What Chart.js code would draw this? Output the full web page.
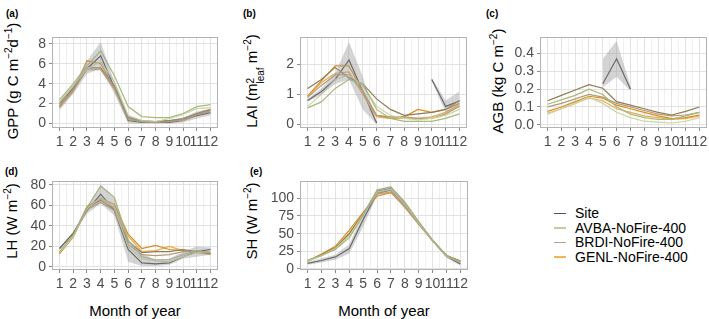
<!DOCTYPE html>
<html>
<head>
<meta charset="utf-8">
<script src="https://cdn.jsdelivr.net/npm/chart.js@4/dist/chart.umd.min.js"></script>
<style>
  body { margin: 0; width: 709px; height: 319px; position: relative; background: #fff; overflow: hidden;
         font-family: "Liberation Sans", Arial, sans-serif; color: #000; }
  canvas { position: absolute; }
  .tag { position: absolute; font-size: 10px; font-weight: bold; }
  .ytitle { position: absolute; font-size: 15px; white-space: nowrap; transform: translate(-50%, -50%) rotate(-90deg); }
  .ytitle sup { font-size: 10px; vertical-align: 6px; line-height: 0; }
  .ss { display: inline-block; vertical-align: -7px; font-size: 10px; line-height: 10px; }
  .ss span { display: block; }
  .xtitle { position: absolute; font-size: 15px; white-space: nowrap; transform: translate(-50%, -50%); }
  .legend { position: absolute; left: 554px; top: 206px; font-size: 14px; }
  .legend div { height: 14.5px; display: flex; align-items: center; }
  .legend i { display: inline-block; width: 12px; height: 1.5px; margin-right: 9px; }
</style>
</head>
<body>
<div class="tag" style="left:6px;top:8px">(a)</div>
<div class="tag" style="left:243px;top:8px">(b)</div>
<div class="tag" style="left:486px;top:8px">(c)</div>
<div class="tag" style="left:5px;top:166px">(d)</div>
<div class="tag" style="left:250px;top:166px">(e)</div>

<div class="ytitle" style="left:12px;top:81px">GPP (g C m<sup>−2</sup>d<sup>−1</sup>)</div>
<div class="ytitle" style="left:254px;top:81px">LAI (m<span class="ss"><span>2</span><span>leaf</span></span> m<sup>−2</sup>)</div>
<div class="ytitle" style="left:497px;top:81px">AGB (kg C m<sup>−2</sup>)</div>
<div class="ytitle" style="left:11px;top:221px">LH (W m<sup>−2</sup>)</div>
<div class="ytitle" style="left:251px;top:221px">SH (W m<sup>−2</sup>)</div>

<div class="xtitle" style="left:135px;top:310px">Month of year</div>
<div class="xtitle" style="left:384px;top:310px">Month of year</div>

<div class="legend">
  <div><i style="background:#555"></i>Site</div>
  <div><i style="background:#c2cf9c"></i>AVBA-NoFire-400</div>
  <div><i style="background:#b5a48a"></i>BRDI-NoFire-400</div>
  <div><i style="background:#f1b65b"></i>GENL-NoFire-400</div>
</div>

<canvas id="gpp"></canvas>
<canvas id="lai"></canvas>
<canvas id="agb"></canvas>
<canvas id="lh"></canvas>
<canvas id="sh"></canvas>

<script>
const months = [1, 2, 3, 4, 5, 6, 7, 8, 9, 10, 11, 12];
const xGrid = [0.5, 1, 1.5, 2, 2.5, 3, 3.5, 4, 4.5, 5, 5.5, 6, 6.5, 7, 7.5, 8, 8.5, 9, 9.5, 10, 10.5, 11, 11.5, 12, 12.5];

// GPP (g C m-2 d-1)
const gppSite   = [1.7, 3.5, 5.5, 6.8, 3.6, 0.3, 0.1, 0.1, 0.1, 0.3, 0.8, 1.1];
const gppSiteLo = [1.3, 3.0, 5.0, 5.5, 3.0, 0.0, 0.0, 0.0, 0.0, 0.1, 0.5, 0.8];
const gppSiteHi = [2.2, 3.8, 6.3, 8.2, 4.2, 0.8, 0.3, 0.2, 0.3, 0.6, 1.2, 1.5];
const gppAvba1  = [2.4, 4.0, 5.8, 7.3, 4.8, 1.7, 0.7, 0.6, 0.6, 1.0, 1.7, 1.9];
const gppAvba2  = [2.2, 3.8, 5.5, 6.2, 4.2, 0.8, 0.3, 0.2, 0.5, 0.9, 1.5, 1.6];
const gppBrdi1  = [2.0, 3.6, 5.6, 5.6, 3.8, 0.6, 0.3, 0.2, 0.3, 0.5, 1.0, 1.4];
const gppBrdi2  = [1.8, 3.4, 5.4, 5.4, 3.5, 0.4, 0.2, 0.1, 0.2, 0.4, 0.9, 1.2];
const gppGenl1  = [1.8, 3.3, 6.3, 6.0, 3.6, 0.6, 0.2, 0.2, 0.3, 0.4, 1.0, 1.4];
const gppGenl2  = [1.6, 3.2, 5.6, 5.5, 3.4, 0.5, 0.2, 0.2, 0.3, 0.3, 0.9, 1.3];
const gppTicks  = [0, 1, 2, 3, 4, 5, 6, 7, 8];
const gppLabels = [0, 2, 4, 6, 8];

// LAI (m2 leaf m-2)
const laiSite   = [0.8, 1.1, 1.5, 2.15, 1.1, 0.05, null, null, null, 1.5, 0.6, 0.78];
const laiSiteLo = [0.75, 1.0, 1.35, 1.5, 0.5, 0.0, null, null, null, 1.45, 0.4, 0.65];
const laiSiteHi = [0.85, 1.2, 1.7, 2.75, 1.6, 0.1, null, null, null, 1.55, 0.8, 1.1];
const laiAvba1  = [0.55, 0.75, 1.2, 1.5, 1.35, 0.5, 0.2, 0.1, 0.1, 0.1, 0.2, 0.35];
const laiAvba2  = [0.6, 1.0, 1.5, 1.65, 1.3, 0.6, 0.3, 0.2, 0.15, 0.2, 0.3, 0.5];
const laiBrdi1  = [1.2, 1.5, 1.9, 1.55, 1.35, 0.85, 0.5, 0.3, 0.35, 0.4, 0.5, 0.8];
const laiBrdi2  = [0.9, 1.3, 1.65, 1.65, 1.1, 0.3, 0.2, 0.25, 0.2, 0.2, 0.35, 0.6];
const laiGenl1  = [0.95, 1.45, 1.95, 1.95, 1.1, 0.3, 0.25, 0.25, 0.5, 0.4, 0.5, 0.7];
const laiGenl2  = [0.9, 1.4, 1.7, 1.75, 1.0, 0.25, 0.2, 0.2, 0.2, 0.25, 0.4, 0.65];
const laiTicks  = [0, 0.5, 1, 1.5, 2, 2.5];
const laiLabels = [0, 1, 2];

// AGB (kg C m-2)
const agbSite   = [null, null, null, null, 0.23, 0.37, 0.2, null, null, null, null, null];
const agbSiteLo = [null, null, null, null, 0.21, 0.27, 0.19, null, null, null, null, null];
const agbSiteHi = [null, null, null, null, 0.37, 0.47, 0.22, null, null, null, null, null];
const agbAvba1  = [0.115, 0.14, 0.165, 0.2, 0.17, 0.1, 0.06, 0.04, 0.03, 0.03, 0.05, 0.07];
const agbAvba2  = [0.06, 0.09, 0.12, 0.155, 0.12, 0.07, 0.04, 0.02, 0.015, 0.01, 0.02, 0.04];
const agbBrdi1  = [0.135, 0.165, 0.195, 0.225, 0.205, 0.13, 0.11, 0.09, 0.07, 0.055, 0.075, 0.1];
const agbBrdi2  = [0.1, 0.12, 0.145, 0.17, 0.155, 0.12, 0.1, 0.08, 0.06, 0.05, 0.055, 0.07];
const agbGenl1  = [0.075, 0.1, 0.13, 0.16, 0.15, 0.11, 0.09, 0.07, 0.05, 0.035, 0.04, 0.055];
const agbGenl2  = [0.065, 0.09, 0.12, 0.15, 0.135, 0.09, 0.07, 0.05, 0.04, 0.03, 0.035, 0.05];
const agbTicks  = [0, 0.05, 0.1, 0.15, 0.2, 0.25, 0.3, 0.35, 0.4, 0.45];
const agbLabels = [0, 0.1, 0.2, 0.3, 0.4];

// LH (W m-2)
const lhSite   = [18, 33, 55, 71, 55, 17, 4, 3, 4, 10, 15, 17];
const lhSiteLo = [17, 32, 52, 62, 50, 5, 1, 1, 2, 8, 10, 12];
const lhSiteHi = [19, 34, 58, 80, 67, 27, 13, 7, 8, 15, 20, 19];
const lhAvba1  = [15, 31, 58, 79, 68, 26, 10, 7, 7, 12, 16, 14];
const lhAvba2  = [14, 30, 57, 68, 58, 20, 8, 6, 5, 10, 14, 15];
const lhBrdi1  = [14, 31, 58, 65, 56, 25, 14, 15, 15, 17, 15, 13];
const lhBrdi2  = [14, 30, 56, 63, 55, 22, 12, 11, 12, 15, 15, 14];
const lhGenl1  = [13, 30, 59, 67, 61, 32, 18, 21, 17, 16, 15, 13];
const lhGenl2  = [13, 29, 57, 66, 58, 30, 15, 16, 20, 16, 14, 12];
const lhTicks  = [0, 10, 20, 30, 40, 50, 60, 70, 80];
const lhLabels = [0, 20, 40, 60, 80];

// SH (W m-2)
const shSite   = [8, 12, 17, 29, 70, 107, 112, 90, 65, 40, 18, 7];
const shSiteLo = [6, 9, 13, 22, 60, 104, 108, 85, 62, 38, 16, 5];
const shSiteHi = [10, 15, 20, 35, 78, 112, 118, 95, 68, 42, 20, 9];
const shAvba1  = [12, 19, 28, 44, 76, 112, 116, 95, 67, 41, 19, 10];
const shAvba2  = [11, 19, 29, 47, 77, 109, 113, 92, 65, 40, 18, 10];
const shBrdi1  = [12, 20, 30, 50, 78, 110, 114, 93, 66, 40, 19, 11];
const shBrdi2  = [11, 19, 28, 48, 77, 108, 112, 91, 65, 40, 18, 10];
const shGenl1  = [11, 21, 32, 55, 80, 103, 108, 88, 63, 40, 19, 11];
const shGenl2  = [11, 20, 29, 51, 78, 106, 109, 90, 64, 40, 19, 11];
const shTicks  = [0, 12.5, 25, 37.5, 50, 62.5, 75, 87.5, 100, 112.5];
const shLabels = [0, 25, 50, 75, 100];

const colors = {
  site: "#3d3d3d",
  avba1: "#a9b97a", avba2: "#c8d5a5",
  brdi1: "#8f7b55", brdi2: "#b39b78",
  genl1: "#dc8c1e", genl2: "#eaac55",
  ribbon: "rgba(160, 160, 160, 0.45)",
};
const tickFont = { family: "'Liberation Sans', Arial, sans-serif", size: 14 };
const PAD_L = 40, PAD_T = 6, PAD_R = 6, PAD_B = 28;

const panelBox = {
  id: "panelBox",
  afterDraw(chart) {
    const { ctx, chartArea: a } = chart;
    ctx.save();
    ctx.strokeStyle = "#b3b3b3";
    ctx.lineWidth = 1;
    ctx.strokeRect(Math.round(a.left) + 0.5, Math.round(a.top) + 0.5,
                   Math.round(a.right - a.left) - 1, Math.round(a.bottom - a.top) - 1);
    ctx.restore();
  },
};

function toXY(values) {
  return values.map((v, i) => ({ x: months[i], y: v }));
}

function line(values, color) {
  return { data: toXY(values), borderColor: color, borderWidth: 1.2, pointRadius: 0, fill: false, tension: 0 };
}

function isMajor(value, labels) {
  return labels.some((l) => Math.abs(l - value) < 1e-9);
}

function renderPanel(id, box, yMin, yMax, yTicks, yLabels, fmt, s) {
  const canvas = document.getElementById(id);
  const w = box.r - box.l + PAD_L + PAD_R;
  const h = box.b - box.t + PAD_T + PAD_B;
  canvas.width = w;
  canvas.height = h;
  canvas.style.left = (box.l - PAD_L) + "px";
  canvas.style.top = (box.t - PAD_T) + "px";

  const datasets = [
    { data: toXY(s.lo), borderWidth: 0, pointRadius: 0, fill: false },
    { data: toXY(s.hi), borderWidth: 0, pointRadius: 0, fill: "-1", backgroundColor: colors.ribbon },
    line(s.avba1, colors.avba1),
    line(s.avba2, colors.avba2),
    line(s.brdi1, colors.brdi1),
    line(s.brdi2, colors.brdi2),
    line(s.genl1, colors.genl1),
    line(s.genl2, colors.genl2),
    line(s.site, colors.site),
  ];

  new Chart(canvas, {
    type: "line",
    data: { datasets },
    plugins: [panelBox],
    options: {
      responsive: false,
      animation: false,
      events: [],
      layout: { padding: { top: PAD_T, right: PAD_R, left: 0, bottom: 0 } },
      plugins: { legend: { display: false }, tooltip: { enabled: false } },
      scales: {
        x: {
          type: "linear",
          min: 0.45,
          max: 12.55,
          afterBuildTicks(scale) { scale.ticks = xGrid.map((v) => ({ value: v })); },
          afterFit(scale) { scale.height = PAD_B; },
          border: { display: false },
          grid: {
            color: (c) => Number.isInteger(c.tick.value) ? "#e2e2e2" : "#f0f0f0",
            tickColor: (c) => Number.isInteger(c.tick.value) ? "#8a8a8a" : "rgba(0,0,0,0)",
            tickLength: 3,
          },
          ticks: {
            autoSkip: false,
            maxRotation: 0,
            minRotation: 0,
            padding: 3,
            color: "#4d4d4d",
            font: tickFont,
            callback: (v) => Number.isInteger(v) ? String(v) : "",
          },
        },
        y: {
          type: "linear",
          min: yMin,
          max: yMax,
          afterBuildTicks(scale) { scale.ticks = yTicks.map((v) => ({ value: v })); },
          afterFit(scale) { scale.width = PAD_L; },
          border: { display: false },
          grid: {
            color: (c) => isMajor(c.tick.value, yLabels) ? "#e2e2e2" : "#f0f0f0",
            tickColor: (c) => isMajor(c.tick.value, yLabels) ? "#8a8a8a" : "rgba(0,0,0,0)",
            tickLength: 3,
          },
          ticks: {
            padding: 3,
            color: "#4d4d4d",
            font: tickFont,
            callback: (v) => isMajor(v, yLabels) ? fmt(v) : "",
          },
        },
      },
    },
  });
}

const plain = (v) => String(v);
const oneDecimal = (v) => v.toFixed(1);

renderPanel("gpp", { l: 52, t: 32, r: 218, b: 128 }, -0.45, 8.65, gppTicks, gppLabels, plain,
  { site: gppSite, lo: gppSiteLo, hi: gppSiteHi, avba1: gppAvba1, avba2: gppAvba2,
    brdi1: gppBrdi1, brdi2: gppBrdi2, genl1: gppGenl1, genl2: gppGenl2 });

renderPanel("lai", { l: 300, t: 32, r: 467, b: 128 }, -0.12, 2.9, laiTicks, laiLabels, plain,
  { site: laiSite, lo: laiSiteLo, hi: laiSiteHi, avba1: laiAvba1, avba2: laiAvba2,
    brdi1: laiBrdi1, brdi2: laiBrdi2, genl1: laiGenl1, genl2: laiGenl2 });

renderPanel("agb", { l: 540, t: 32, r: 707, b: 128 }, -0.018, 0.49, agbTicks, agbLabels, oneDecimal,
  { site: agbSite, lo: agbSiteLo, hi: agbSiteHi, avba1: agbAvba1, avba2: agbAvba2,
    brdi1: agbBrdi1, brdi2: agbBrdi2, genl1: agbGenl1, genl2: agbGenl2 });

renderPanel("lh", { l: 52, t: 176, r: 218, b: 270 }, -3, 83.5, lhTicks, lhLabels, plain,
  { site: lhSite, lo: lhSiteLo, hi: lhSiteHi, avba1: lhAvba1, avba2: lhAvba2,
    brdi1: lhBrdi1, brdi2: lhBrdi2, genl1: lhGenl1, genl2: lhGenl2 });

renderPanel("sh", { l: 300, t: 176, r: 468, b: 270 }, -1.5, 124, shTicks, shLabels, plain,
  { site: shSite, lo: shSiteLo, hi: shSiteHi, avba1: shAvba1, avba2: shAvba2,
    brdi1: shBrdi1, brdi2: shBrdi2, genl1: shGenl1, genl2: shGenl2 });
</script>
</body>
</html>
